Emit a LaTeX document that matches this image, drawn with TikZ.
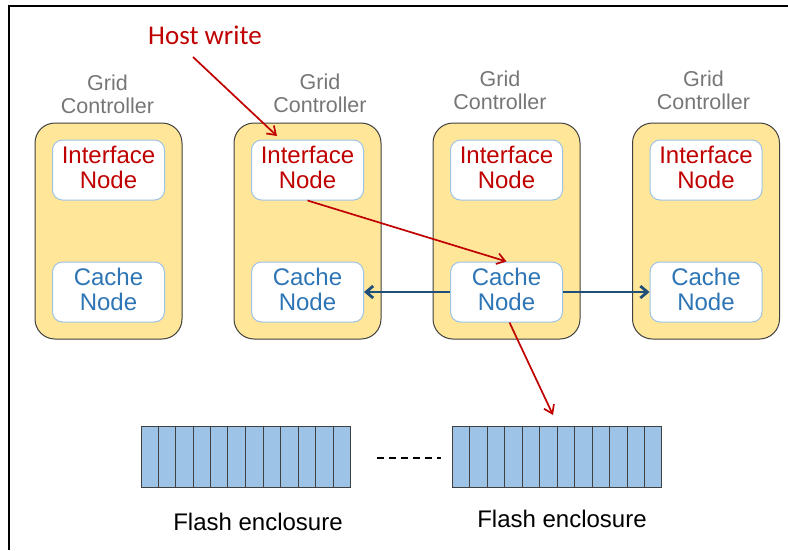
\documentclass[tikz,border=0pt]{standalone}
\usepackage{fontspec}
\setmainfont{Liberation Sans}
\newfontfamily\calib{Carlito}
\usetikzlibrary{arrows.meta,calc}

\definecolor{ctrlfill}{HTML}{FFE699}
\definecolor{ctrlline}{HTML}{404040}
\definecolor{nodeline}{HTML}{9DC3E6}
\definecolor{redtxt}{HTML}{C00000}
\definecolor{bluetxt}{HTML}{2E75B6}
\definecolor{bluearrow}{HTML}{1F4E79}
\definecolor{graytxt}{HTML}{767676}
\definecolor{cellfill}{HTML}{9DC3E6}

\tikzset{
  ctrl/.style={draw=ctrlline, line width=1pt, fill=ctrlfill, rounded corners=20pt,
    minimum width=147pt, minimum height=216pt, inner sep=0pt},
  inode/.style={draw=nodeline, line width=1pt, fill=white, rounded corners=10pt,
    minimum width=112pt, minimum height=60pt, inner sep=0pt},
  itext/.style={align=center, inner sep=0pt, font=\fontsize{24}{25.5}\selectfont},
  ctrllabel/.style={align=center, text=graytxt, inner sep=0pt,
    font=\fontsize{21.5}{23}\selectfont},
  redarrow/.style={draw=redtxt, line width=1.7pt,
    -{Straight Barb[length=8pt,width=11pt,line width=1.7pt]}},
  bluearr/.style={draw=bluearrow, line width=2.8pt,
    -{Straight Barb[length=7pt,width=12pt,line width=2.8pt]}},
  flashbox/.style={draw=ctrlline, line width=1pt, fill=cellfill,
    minimum width=209pt, minimum height=61pt, inner sep=0pt},
  flashlabel/.style={inner sep=0pt, font=\fontsize{24}{26}\selectfont},
}

\begin{document}
\begin{tikzpicture}[x=1pt, y=-1pt]
  \useasboundingbox (0,0) rectangle (788,550);

  % frame lines
  \draw[line width=1.5pt] (9,550) -- (9,6) -- (788,6);

  % grid controllers with their interface and cache nodes
  \foreach \i/\x in {1/108.5, 2/307.5, 3/506.5, 4/706} {
    \node[ctrl] (gc\i) at (\x,231) {};
    \node[inode] (if\i) at (\x,170) {};
    \node[itext, text=redtxt] (ift\i) at (\x,167.5) {Interface\\Node};
    \node[inode] (cn\i) at (\x,292) {};
    \node[itext, text=bluetxt] (cnt\i) at (\x,289.5) {Cache\\Node};
  }
  \node[ctrllabel] (lab1) at (107.5,94) {Grid\\Controller};
  \node[ctrllabel] (lab2) at (320,93) {Grid\\Controller};
  \node[ctrllabel] (lab3) at (500,90) {Grid\\Controller};
  \node[ctrllabel] (lab4) at (703.5,90) {Grid\\Controller};

  % host write
  \node[anchor=base, inner sep=0pt, text=redtxt, font=\calib\fontsize{27}{29}\selectfont]
    (host) at (205,44) {Host write};
  \coordinate (hoststart) at (193,57);
  \coordinate (hostend) at (277,136);
  \draw[redarrow] (hoststart) -- (hostend);

  % write path
  \draw[redarrow] (if2.south) -- (cn3.north);
  \coordinate (flashin) at (553,415);
  \draw[redarrow] ($(cn3.south)+(3,0)$) -- (flashin);

  % cache mirroring
  \draw[bluearr] (cn3.west) -- (cn2.east);
  \draw[bluearr] (cn3.east) -- (cn4.west);

  % flash enclosures
  \node[flashbox] (fl1) at (245.5,456.5) {};
  \node[flashbox] (fl2) at (557,456.5) {};
  \foreach \f in {fl1,fl2} {
    \foreach \k in {1,...,11} {
      \draw[ctrlline, line width=1pt]
        ($(\f.north west)!\k/12!(\f.north east)$) -- ($(\f.south west)!\k/12!(\f.south east)$);
    }
  }
  \coordinate (dashA) at (377,458);
  \coordinate (dashB) at (441,458);
  \draw[line width=1.2pt, dash pattern=on 7pt off 5pt] (dashA) -- (dashB);

  \node[flashlabel, anchor=base] (fltxt1) at (258,530) {Flash enclosure};
  \node[flashlabel, anchor=base] (fltxt2) at (562,527) {Flash enclosure};
\end{tikzpicture}
\end{document}
